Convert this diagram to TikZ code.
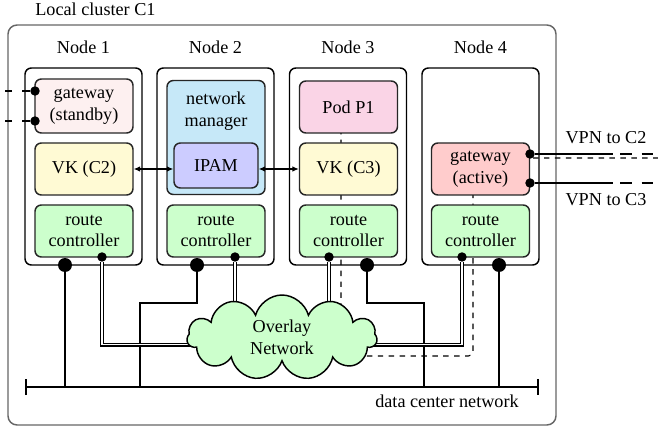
\documentclass[tikz,border=0pt]{standalone}
\usepackage{fontspec}
\setmainfont{Liberation Serif}
\usetikzlibrary{shapes.symbols,arrows.meta,calc}
\definecolor{gwstand}{RGB}{253,240,240}
\definecolor{gwact}{RGB}{255,204,204}
\definecolor{vkyel}{RGB}{255,250,212}
\definecolor{rcgreen}{RGB}{204,255,204}
\definecolor{nmblue}{RGB}{198,232,248}
\definecolor{ipamblue}{RGB}{204,204,255}
\definecolor{podpink}{RGB}{250,212,230}
\pgfdeclarelayer{back}
\pgfdeclarelayer{mid}
\pgfsetlayers{back,mid,main}
\begin{document}
\begin{tikzpicture}[x=0.55pt,y=-0.55pt,font=\rmfamily\fontsize{10}{12}\selectfont,
  outerbox/.style={draw=black!60,line width=0.8pt,rounded corners=5pt,minimum width=301.4pt,minimum height=220pt,inner sep=0pt},
  nodebox/.style={draw,line width=0.8pt,fill=white,rounded corners=3.5pt,minimum width=64.35pt,minimum height=108.35pt,inner sep=0pt},
  inbox/.style={draw=black!85,line width=0.8pt,rounded corners=3.5pt,minimum width=53.9pt,minimum height=28.6pt,align=center,inner sep=0pt},
  txt/.style={inner sep=0pt,anchor=base},
  bigdot/.style={circle,fill,inner sep=0pt,minimum size=7.7pt},
  smalldot/.style={circle,fill,inner sep=0pt,minimum size=5.2pt},
  link/.style={line width=0.7pt},
  dbl/.style={double,double distance=1pt,line width=0.6pt},
  trail/.style={dashed,line width=0.6pt,rounded corners=2.5pt},
  vpn/.style={line width=1.1pt},
  arr/.style={line width=0.6pt,{Latex[length=3.5pt,width=3pt]}-{Latex[length=3.5pt,width=3pt]}},
  bus/.style={line width=1.1pt,{Bar[width=9pt,line width=1.1pt]}-{Bar[width=9pt,line width=1.1pt]}}]
\useasboundingbox (0,0) rectangle (658,428);

% labels
\node[inner sep=0pt,anchor=base west] (c1lbl) at (35,16) {Local cluster C1};
\node[txt] (h1) at (83.5,54) {Node 1};
\node[txt] (h2) at (215.5,54) {Node 2};
\node[txt] (h3) at (348,54) {Node 3};
\node[txt] (h4) at (480.5,54) {Node 4};

% inner boxes
\node[inbox,fill=gwstand,minimum height=29.7pt] (gws) at (84,106) {gateway\\(standby)};
\node[inbox,fill=vkyel] (vk2) at (84,169) {VK (C2)};
\node[inbox,fill=rcgreen] (rc1) at (84,231) {route\\controller};

\node[inbox,fill=nmblue,minimum height=62.7pt] (nm) at (216,137.5) {};
\node[inner sep=0pt,align=center] (nmtxt) at (216,111) {network\\manager};
\node[inbox,fill=ipamblue,minimum width=46.2pt,minimum height=24.75pt] (ipam) at (216,165.5) {IPAM};
\node[inbox,fill=rcgreen] (rc2) at (216,231) {route\\controller};

\node[inbox,fill=podpink] (pod) at (348.5,107) {Pod P1};
\node[inbox,fill=vkyel] (vk3) at (348.5,169) {VK (C3)};
\node[inbox,fill=rcgreen] (rc3) at (348.5,231) {route\\controller};

\node[inbox,fill=gwact] (gwa) at (480.5,169) {gateway\\(active)};
\node[inbox,fill=rcgreen] (rc4) at (480.5,231) {route\\controller};

% cloud
\node[cloud,draw,fill=rcgreen,line width=0.8pt,cloud puffs=11,aspect=2.2,
  minimum width=104.5pt,minimum height=46.75pt,align=center,inner sep=0pt] (ov) at (282,337.5) {Overlay\\Network};

% dots
\node[bigdot] (b1) at (65,265) {};
\node[smalldot] (s1) at (102,257) {};
\node[bigdot] (b2) at (197,265) {};
\node[smalldot] (s2) at (235,257) {};
\node[smalldot] (s3) at (329,257) {};
\node[bigdot] (b3) at (367,265) {};
\node[smalldot] (s4) at (462,257) {};
\node[bigdot] (b4) at (499,265) {};
\node[smalldot] (g1) at (35,91) {};
\node[smalldot] (g2) at (35,121) {};
\node[smalldot] (v2) at (530,154) {};
\node[smalldot] (v3) at (530,183) {};

% arrows
\draw[arr] (vk2.east) -- (vk2.east -| ipam.west);
\draw[arr] (ipam.east |- vk3.west) -- (vk3.west);

% VPN labels
\node[txt] (lv2) at (606,144) {VPN to C2};
\node[txt] (lv3) at (606,206) {VPN to C3};
\node[txt] (dcn) at (447,407) {data center network};

% coordinates
\coordinate (busL) at (25,387);
\coordinate (busR) at (539,387);
\coordinate (j2) at (140,303);
\coordinate (j3) at (424,303);
\coordinate (pd1) at (341,356);
\coordinate (pd2) at (473,356);
\coordinate (pend) at (658,158);
\coordinate (v2m) at (613,154);
\coordinate (v2e) at (658,154);
\coordinate (v3m) at (613,183);
\coordinate (v3e) at (658,183);
\coordinate (g1m) at (22,91);
\coordinate (g1e) at (0,91);
\coordinate (g2m) at (22,121);
\coordinate (g2e) at (0,121);

\begin{pgfonlayer}{back}
\node[outerbox] (c1) at (282,225) {};
\node[nodebox] (n1) at (83.5,166.5) {};
\node[nodebox] (n2) at (215.5,166.5) {};
\node[nodebox] (n3) at (348,166.5) {};
\node[nodebox] (n4) at (480.5,166.5) {};
\end{pgfonlayer}

\begin{pgfonlayer}{mid}
\draw[trail] (pod.center -| pd1) -- (pd1) -- (pd2) -- (pd2 |- pend) -- (pend);
\draw[bus] (busL) -- (busR);
\draw[link] (b1) -- (b1 |- busL);
\draw[link] (b2) |- (j2) -- (j2 |- busL);
\draw[link] (b3) |- (j3) -- (j3 |- busL);
\draw[link] (b4) -- (b4 |- busL);
\draw[dbl] (s1) |- ($(ov.center)+(0,7)$);
\draw[dbl] (s4) |- ($(ov.center)+(0,7)$);
\draw[dbl] (s2) -- (s2 |- ov.center);
\draw[dbl] (s3) -- (s3 |- ov.center);
\draw[vpn] (v2) -- (v2m);
\draw[vpn,dash pattern=on 6.4pt off 5.5pt,dash phase=8pt] (v2m) -- (v2e);
\draw[vpn] (v3) -- (v3m);
\draw[vpn,dash pattern=on 6.4pt off 5.5pt,dash phase=8pt] (v3m) -- (v3e);
\draw[vpn] (g1) -- (g1m);
\draw[vpn,dash pattern=on 3.85pt off 5.5pt,dash phase=3.85pt] (g1m) -- (g1e);
\draw[vpn] (g2) -- (g2m);
\draw[vpn,dash pattern=on 3.85pt off 5.5pt,dash phase=3.85pt] (g2m) -- (g2e);
\end{pgfonlayer}
\end{tikzpicture}
\end{document}
